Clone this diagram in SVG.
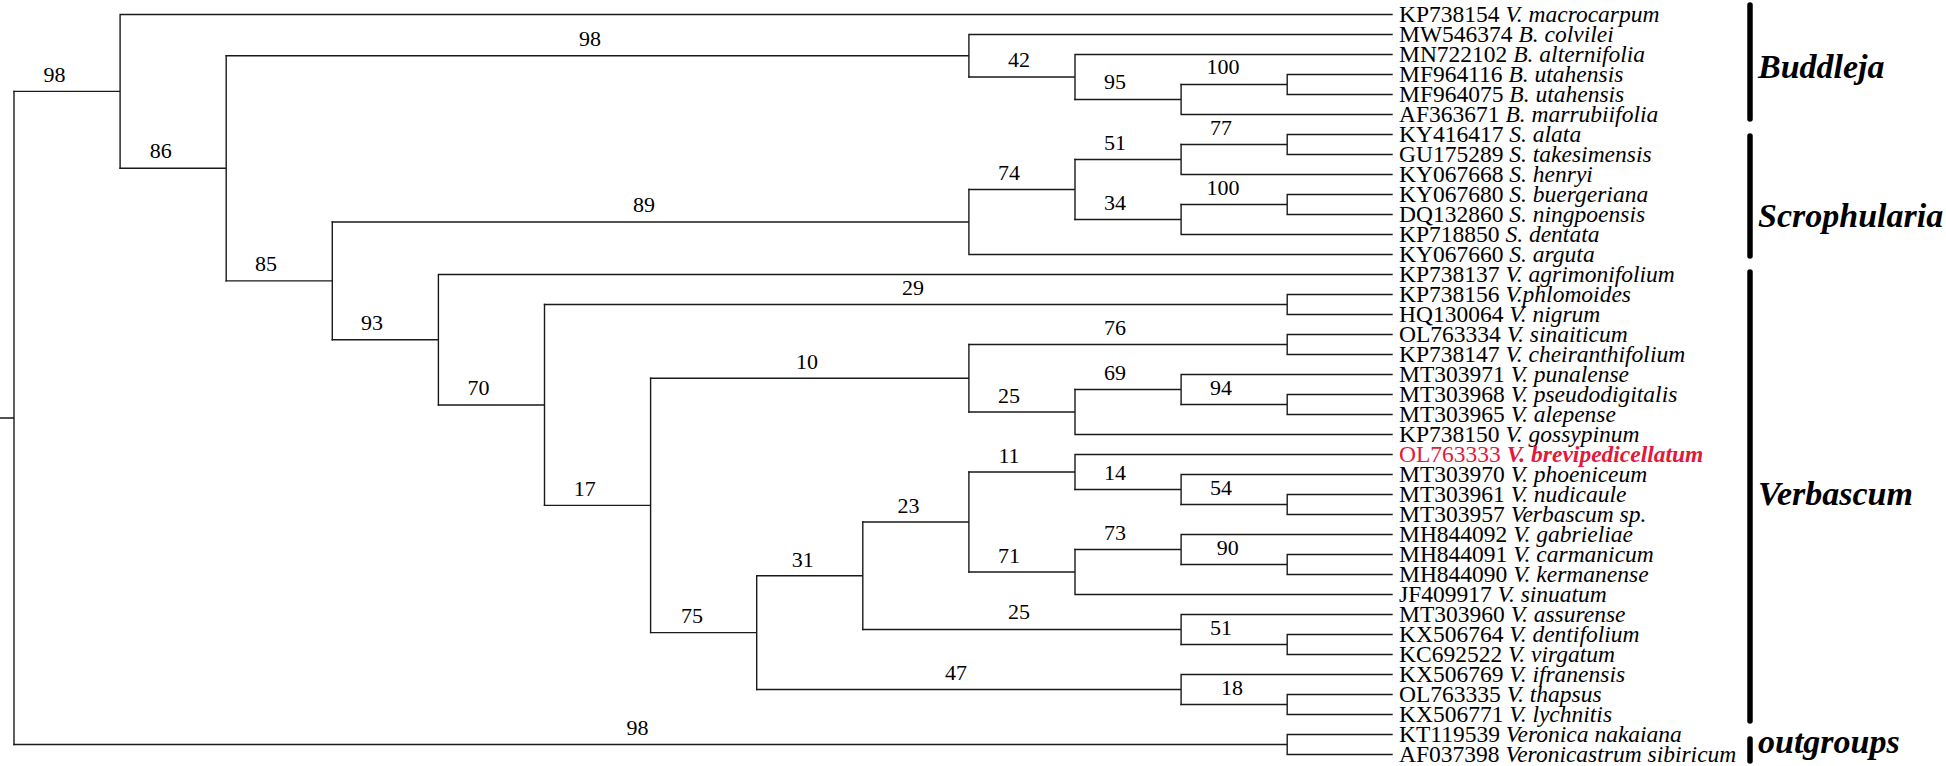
<svg xmlns="http://www.w3.org/2000/svg" width="1946" height="766" viewBox="0 0 1946 766">
<style>
.br{fill:none;stroke:#1a1a1a;stroke-width:1.4;stroke-linecap:square}
.bs{font-family:"Liberation Serif","Times New Roman",serif;font-size:22px;fill:#000;text-anchor:middle}
.lf{font-family:"Liberation Serif","Times New Roman",serif;font-size:23.5px;fill:#000}
.lf tspan.sp{font-style:italic}
.red{fill:#e3183d}
.red tspan.sp{font-weight:bold}
.grp{font-family:"Liberation Serif","Times New Roman",serif;font-size:34px;font-weight:bold;font-style:italic;fill:#000}
.bar{stroke:#000;stroke-width:5.5;stroke-linecap:round}
</style>
<rect width="1946" height="766" fill="#fff"/>
<g id="connectors" class="br">
<path d="M0 418H14M14 91.4V744.5"/>
<path d="M14 91.4H120.1M120.1 14.5V168.3M120.1 14.5H1392"/>
<path d="M120.1 168.3H226.2M226.2 55.75V280.9"/>
<path d="M226.2 55.75H968.9M968.9 34.5V77M968.9 34.5H1392"/>
<path d="M968.9 77H1075M1075 54.5V99.5M1075 54.5H1392"/>
<path d="M1075 99.5H1181.1M1181.1 84.5V114.5M1181.1 114.5H1392"/>
<path d="M1181.1 84.5H1287.2M1287.2 74.5V94.5M1287.2 74.5H1392M1287.2 94.5H1392"/>
<path d="M226.2 280.9H332.3M332.3 222V339.75"/>
<path d="M332.3 222H968.9M968.9 189.5V254.5M968.9 254.5H1392"/>
<path d="M968.9 189.5H1075M1075 159.5V219.5"/>
<path d="M1075 159.5H1181.1M1181.1 144.5V174.5M1181.1 174.5H1392"/>
<path d="M1181.1 144.5H1287.2M1287.2 134.5V154.5M1287.2 134.5H1392M1287.2 154.5H1392"/>
<path d="M1075 219.5H1181.1M1181.1 204.5V234.5M1181.1 234.5H1392"/>
<path d="M1181.1 204.5H1287.2M1287.2 194.5V214.5M1287.2 194.5H1392M1287.2 214.5H1392"/>
<path d="M332.3 339.75H438.4M438.4 274.5V405M438.4 274.5H1392"/>
<path d="M438.4 405H544.5M544.5 304.5V505.4"/>
<path d="M544.5 304.5H1287.2M1287.2 294.5V314.5M1287.2 294.5H1392M1287.2 314.5H1392"/>
<path d="M544.5 505.4H650.6M650.6 378.25V632.6"/>
<path d="M650.6 378.25H968.9M968.9 344.5V412"/>
<path d="M968.9 344.5H1287.2M1287.2 334.5V354.5M1287.2 334.5H1392M1287.2 354.5H1392"/>
<path d="M968.9 412H1075M1075 389.5V434.5M1075 434.5H1392"/>
<path d="M1075 389.5H1181.1M1181.1 374.5V404.5M1181.1 374.5H1392"/>
<path d="M1181.1 404.5H1287.2M1287.2 394.5V414.5M1287.2 394.5H1392M1287.2 414.5H1392"/>
<path d="M650.6 632.6H756.7M756.7 575.75V689.5"/>
<path d="M756.7 575.75H862.8M862.8 522V629.5"/>
<path d="M862.8 522H968.9M968.9 472V572"/>
<path d="M968.9 472H1075M1075 454.5V489.5M1075 454.5H1392"/>
<path d="M1075 489.5H1181.1M1181.1 474.5V504.5M1181.1 474.5H1392"/>
<path d="M1181.1 504.5H1287.2M1287.2 494.5V514.5M1287.2 494.5H1392M1287.2 514.5H1392"/>
<path d="M968.9 572H1075M1075 549.5V594.5M1075 594.5H1392"/>
<path d="M1075 549.5H1181.1M1181.1 534.5V564.5M1181.1 534.5H1392"/>
<path d="M1181.1 564.5H1287.2M1287.2 554.5V574.5M1287.2 554.5H1392M1287.2 574.5H1392"/>
<path d="M862.8 629.5H1181.1M1181.1 614.5V644.5M1181.1 614.5H1392"/>
<path d="M1181.1 644.5H1287.2M1287.2 634.5V654.5M1287.2 634.5H1392M1287.2 654.5H1392"/>
<path d="M756.7 689.5H1181.1M1181.1 674.5V704.5M1181.1 674.5H1392"/>
<path d="M1181.1 704.5H1287.2M1287.2 694.5V714.5M1287.2 694.5H1392M1287.2 714.5H1392"/>
<path d="M14 744.5H1287.2M1287.2 734.5V754.5M1287.2 734.5H1392M1287.2 754.5H1392"/>
</g>
<g id="supports" class="bs">
<text x="54.5" y="82">98</text>
<text x="160.7" y="158">86</text>
<text x="590" y="46">98</text>
<text x="266" y="271">85</text>
<text x="644" y="212">89</text>
<text x="372" y="330">93</text>
<text x="478.6" y="395">70</text>
<text x="584.8" y="496">17</text>
<text x="692" y="623">75</text>
<text x="637.5" y="735">98</text>
<text x="1019" y="67">42</text>
<text x="1115" y="89">95</text>
<text x="1223" y="74">100</text>
<text x="1009" y="180">74</text>
<text x="1115" y="150">51</text>
<text x="1115" y="210">34</text>
<text x="1221" y="135">77</text>
<text x="1223" y="195">100</text>
<text x="913" y="295">29</text>
<text x="807" y="369">10</text>
<text x="1115" y="335">76</text>
<text x="1009" y="403">25</text>
<text x="1115" y="380">69</text>
<text x="1221" y="395">94</text>
<text x="908.5" y="513">23</text>
<text x="1009" y="463">11</text>
<text x="1115" y="480">14</text>
<text x="1221" y="495">54</text>
<text x="1115" y="540">73</text>
<text x="1009" y="563">71</text>
<text x="1227.7" y="555">90</text>
<text x="802.7" y="567">31</text>
<text x="1019" y="619">25</text>
<text x="1221" y="635">51</text>
<text x="956" y="680">47</text>
<text x="1232" y="695">18</text>
</g>
<g id="leaves" class="lf">
<g id="leaf0"><text x="1399" y="22">KP738154 <tspan class="sp">V. macrocarpum</tspan></text></g>
<g id="leaf1"><text x="1399" y="42">MW546374 <tspan class="sp">B. colvilei</tspan></text></g>
<g id="leaf2"><text x="1399" y="62">MN722102 <tspan class="sp">B. alternifolia</tspan></text></g>
<g id="leaf3"><text x="1399" y="82">MF964116 <tspan class="sp">B. utahensis</tspan></text></g>
<g id="leaf4"><text x="1399" y="102">MF964075 <tspan class="sp">B. utahensis</tspan></text></g>
<g id="leaf5"><text x="1399" y="122">AF363671 <tspan class="sp">B. marrubiifolia</tspan></text></g>
<g id="leaf6"><text x="1399" y="142">KY416417 <tspan class="sp">S. alata</tspan></text></g>
<g id="leaf7"><text x="1399" y="162">GU175289 <tspan class="sp">S. takesimensis</tspan></text></g>
<g id="leaf8"><text x="1399" y="182">KY067668 <tspan class="sp">S. henryi</tspan></text></g>
<g id="leaf9"><text x="1399" y="202">KY067680 <tspan class="sp">S. buergeriana</tspan></text></g>
<g id="leaf10"><text x="1399" y="222">DQ132860 <tspan class="sp">S. ningpoensis</tspan></text></g>
<g id="leaf11"><text x="1399" y="242">KP718850 <tspan class="sp">S. dentata</tspan></text></g>
<g id="leaf12"><text x="1399" y="262">KY067660 <tspan class="sp">S. arguta</tspan></text></g>
<g id="leaf13"><text x="1399" y="282">KP738137 <tspan class="sp">V. agrimonifolium</tspan></text></g>
<g id="leaf14"><text x="1399" y="302">KP738156 <tspan class="sp">V.phlomoides</tspan></text></g>
<g id="leaf15"><text x="1399" y="322">HQ130064 <tspan class="sp">V. nigrum</tspan></text></g>
<g id="leaf16"><text x="1399" y="342">OL763334 <tspan class="sp">V. sinaiticum</tspan></text></g>
<g id="leaf17"><text x="1399" y="362">KP738147 <tspan class="sp">V. cheiranthifolium</tspan></text></g>
<g id="leaf18"><text x="1399" y="382">MT303971 <tspan class="sp">V. punalense</tspan></text></g>
<g id="leaf19"><text x="1399" y="402">MT303968 <tspan class="sp">V. pseudodigitalis</tspan></text></g>
<g id="leaf20"><text x="1399" y="422">MT303965 <tspan class="sp">V. alepense</tspan></text></g>
<g id="leaf21"><text x="1399" y="442">KP738150 <tspan class="sp">V. gossypinum</tspan></text></g>
<g id="leaf22"><text class="red" x="1399" y="462">OL763333 <tspan class="sp">V. brevipedicellatum</tspan></text></g>
<g id="leaf23"><text x="1399" y="482">MT303970 <tspan class="sp">V. phoeniceum</tspan></text></g>
<g id="leaf24"><text x="1399" y="502">MT303961 <tspan class="sp">V. nudicaule</tspan></text></g>
<g id="leaf25"><text x="1399" y="522">MT303957 <tspan class="sp">Verbascum sp.</tspan></text></g>
<g id="leaf26"><text x="1399" y="542">MH844092 <tspan class="sp">V. gabrieliae</tspan></text></g>
<g id="leaf27"><text x="1399" y="562">MH844091 <tspan class="sp">V. carmanicum</tspan></text></g>
<g id="leaf28"><text x="1399" y="582">MH844090 <tspan class="sp">V. kermanense</tspan></text></g>
<g id="leaf29"><text x="1399" y="602">JF409917 <tspan class="sp">V. sinuatum</tspan></text></g>
<g id="leaf30"><text x="1399" y="622">MT303960 <tspan class="sp">V. assurense</tspan></text></g>
<g id="leaf31"><text x="1399" y="642">KX506764 <tspan class="sp">V. dentifolium</tspan></text></g>
<g id="leaf32"><text x="1399" y="662">KC692522 <tspan class="sp">V. virgatum</tspan></text></g>
<g id="leaf33"><text x="1399" y="682">KX506769 <tspan class="sp">V. ifranensis</tspan></text></g>
<g id="leaf34"><text x="1399" y="702">OL763335 <tspan class="sp">V. thapsus</tspan></text></g>
<g id="leaf35"><text x="1399" y="722">KX506771 <tspan class="sp">V. lychnitis</tspan></text></g>
<g id="leaf36"><text x="1399" y="742">KT119539 <tspan class="sp">Veronica nakaiana</tspan></text></g>
<g id="leaf37"><text x="1399" y="762">AF037398 <tspan class="sp">Veronicastrum sibiricum</tspan></text></g>
</g>
<g id="groups">
<g id="grp-buddleja"><line class="bar" x1="1750" y1="5" x2="1750" y2="119"/><text class="grp" x="1758" y="78">Buddleja</text></g>
<g id="grp-scrophularia"><line class="bar" x1="1750" y1="136" x2="1750" y2="256"/><text class="grp" x="1758" y="227">Scrophularia</text></g>
<g id="grp-verbascum"><line class="bar" x1="1750" y1="272" x2="1750" y2="721"/><text class="grp" x="1758" y="505">Verbascum</text></g>
<g id="grp-outgroups"><line class="bar" x1="1750" y1="739" x2="1750" y2="761"/><text class="grp" x="1758" y="753">outgroups</text></g>
</g>
</svg>
